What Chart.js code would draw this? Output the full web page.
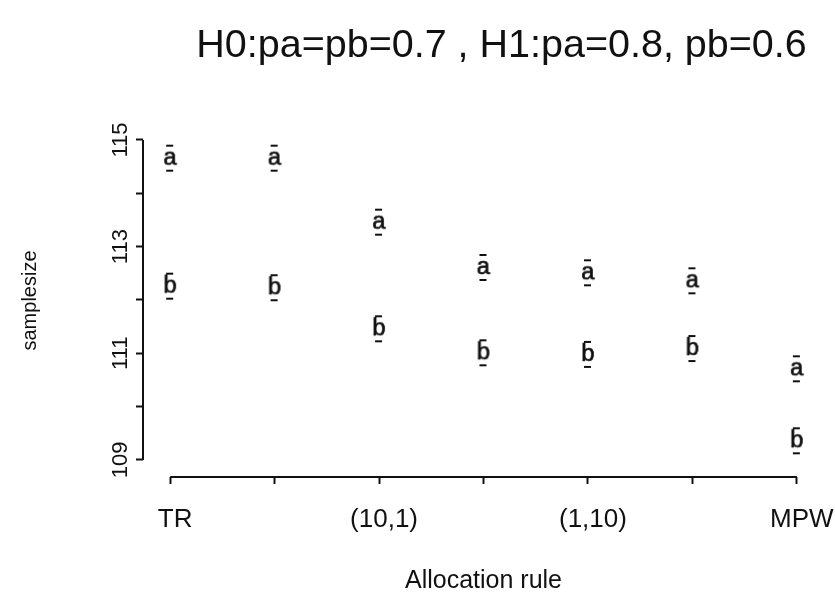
<!DOCTYPE html>
<html>
<head>
<meta charset="utf-8">
<script src="https://cdn.jsdelivr.net/npm/chart.js@4.4.0/dist/chart.umd.min.js"></script>
<style>
  html, body { margin: 0; padding: 0; background: #fff; }
  #wrap { width: 835px; height: 614px; }
</style>
</head>
<body>
<div id="wrap"><canvas id="chart" width="835" height="614"></canvas></div>
<script>
// --- DATA ---
const categories = ['TR', '', '(10,1)', '', '(1,10)', '', 'MPW'];
const seriesA = [114.65, 114.65, 113.45, 112.6, 112.5, 112.35, 110.7];
const seriesB = [112.25, 112.22, 111.45, 111.0, 110.97, 111.08, 109.35];
const yTicks = [109, 110, 111, 112, 113, 114, 115];
const yTickLabels = ['109', '', '111', '', '113', '', '115'];
const chartTitle = 'H0:pa=pb=0.7 , H1:pa=0.8, pb=0.6';
const xTitle = 'Allocation rule';
const yTitle = 'samplesize';

const INK = '#111';

// letter marker with a small bar above and below, like the plotted symbols
function letterMarker(ch) {
    const c = document.createElement('canvas');
    c.width = 26; c.height = 40;
    const g = c.getContext('2d');
    g.fillStyle = INK;
    g.strokeStyle = INK;
    g.lineWidth = 0.7;
    g.font = '24px "Liberation Mono"';
    g.textAlign = 'center';
    g.textBaseline = 'alphabetic';
    g.fillText(ch, 13, 26);
    g.strokeText(ch, 13, 26);
    g.fillRect(9, 6, 7, 2);   // bar above
    g.fillRect(9, 31, 7, 2);  // bar below
    return c;
}

// R-style detached axis lines + main title
const rAxes = {
    id: 'rAxes',
    afterDraw(chart) {
        const { ctx, chartArea, scales: { x, y } } = chart;
        ctx.save();
        ctx.strokeStyle = INK;
        ctx.lineWidth = 2;
        ctx.beginPath();
        ctx.moveTo(x.getPixelForValue(1), chartArea.bottom);
        ctx.lineTo(x.getPixelForValue(categories.length), chartArea.bottom);
        ctx.moveTo(chartArea.left, y.getPixelForValue(yTicks[0]));
        ctx.lineTo(chartArea.left, y.getPixelForValue(yTicks[yTicks.length - 1]));
        ctx.stroke();

        ctx.fillStyle = INK;
        ctx.font = '39.5px "Liberation Sans"';
        ctx.textAlign = 'center';
        ctx.textBaseline = 'alphabetic';
        ctx.fillText(chartTitle, (chartArea.left + chartArea.right) / 2 + 18, 57);
        ctx.restore();
    }
};

const toPoints = arr => arr.map((v, i) => ({ x: i + 1, y: v }));

new Chart(document.getElementById('chart'), {
    type: 'scatter',
    data: {
        datasets: [
            { label: 'a', data: toPoints(seriesA), pointStyle: letterMarker('a') },
            { label: 'b', data: toPoints(seriesB), pointStyle: letterMarker('b') }
        ]
    },
    options: {
        responsive: false,
        devicePixelRatio: 1,
        animation: false,
        layout: { padding: { top: 124, right: 11, left: 0, bottom: 0 } },
        plugins: {
            legend: { display: false },
            tooltip: { enabled: false },
            title: { display: false }
        },
        scales: {
            x: {
                type: 'linear',
                min: 0.74,
                max: 7.26,
                afterBuildTicks: s => { s.ticks = categories.map((_, i) => ({ value: i + 1 })); },
                afterFit: s => { s.height = 137; s.paddingLeft = 0; s.paddingRight = 0; },
                border: { display: false },
                grid: { display: true, drawOnChartArea: false, drawTicks: true, tickLength: 7, tickWidth: 2, tickColor: INK },
                ticks: {
                    autoSkip: false, maxRotation: 0, padding: 20, labelOffset: 5,
                    color: INK, font: { family: 'Liberation Sans', size: 26 },
                    callback: v => categories[v - 1]
                },
                title: {
                    display: true, text: xTitle, color: INK,
                    font: { family: 'Liberation Sans', size: 25 },
                    padding: { bottom: 18 }
                }
            },
            y: {
                type: 'linear',
                min: 108.68,
                max: 115.3,
                afterBuildTicks: s => { s.ticks = yTicks.map(v => ({ value: v })); },
                afterFit: s => { s.width = 143; },
                border: { display: false },
                grid: { display: true, drawOnChartArea: false, drawTicks: true, tickLength: 7, tickWidth: 2, tickColor: INK },
                ticks: {
                    autoSkip: false, minRotation: 90, maxRotation: 90, crossAlign: 'center', padding: -3,
                    color: INK, font: { family: 'Liberation Sans', size: 22 },
                    callback: v => yTickLabels[yTicks.indexOf(v)]
                },
                title: {
                    display: true, text: yTitle, color: INK,
                    font: { family: 'Liberation Sans', size: 20 },
                    padding: { top: 18 }
                }
            }
        }
    },
    plugins: [rAxes]
});
</script>
</body>
</html>
